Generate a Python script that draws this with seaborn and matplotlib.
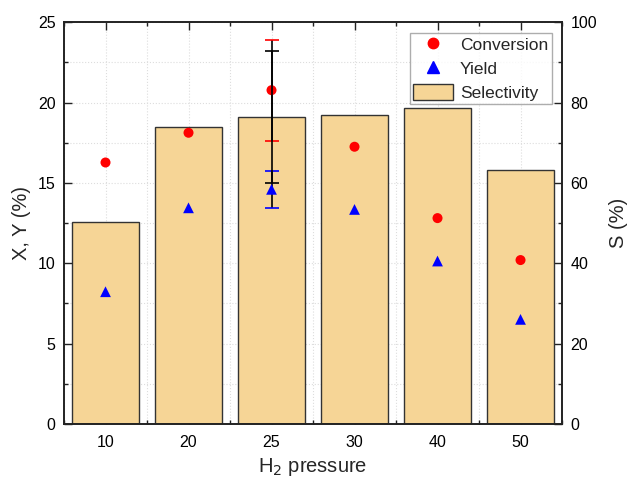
import pandas as pd
import matplotlib.pyplot as plt
import seaborn as sns
from matplotlib.ticker import MultipleLocator, AutoMinorLocator
from matplotlib.lines import Line2D
from matplotlib.patches import Patch

pressure = ['10', '20', '25', '30', '40', '50']
selectivity = [50.2, 73.8, 76.4, 76.9, 78.6, 63.1]
conversion = [16.27, 18.12, 20.77, 17.25, 12.81, 10.20]
yield_ = [8.23, 13.45, 14.60, 13.35, 10.14, 6.51]

# error bars only reported at 25 bar
err_cat = '25'
conv_err = 3.15
yield_err = 1.14
sel_err = 16.4

df = pd.DataFrame({'pressure': pressure, 'S': selectivity,
                   'X': conversion, 'Y': yield_})

sns.set_style('white')
plt.rcParams['font.family'] = ['Liberation Sans', 'DejaVu Sans']

fig = plt.figure(figsize=(6.3, 4.82), dpi=100)
ax = fig.add_axes([0.1016, 0.1203, 0.7905, 0.8337])

# bars live on the right-hand (S) scale
sns.barplot(data=df, x='pressure', y='S', order=pressure, color='#F6D596',
            saturation=1, width=0.81, edgecolor='#333333', linewidth=1.0, ax=ax)
ax.set_ylim(0, 100)
ax.set_xlim(-0.5, 5.5)
ax.yaxis.tick_right()
ax.yaxis.set_label_position('right')
ax.set_ylabel('S (%)', fontsize=14.5, labelpad=9)
ax.yaxis.set_major_locator(MultipleLocator(20))
ax.yaxis.set_minor_locator(MultipleLocator(10))
ax.xaxis.set_minor_locator(AutoMinorLocator(2))
ax.set_axisbelow(True)
ax.grid(True, which='both', linestyle=':', color='#dddddd', linewidth=0.8)

# points on the left-hand (X, Y) scale
ax2 = ax.twinx()
ax2.set_ylim(0, 25)
ax2.yaxis.set_major_locator(MultipleLocator(5))
ax2.yaxis.set_minor_locator(MultipleLocator(2.5))

i = pressure.index(err_cat)
e1 = ax2.errorbar(err_cat, conversion[i], yerr=conv_err, fmt='none', ecolor='red',
                  elinewidth=1.2, capsize=5, capthick=1.2, zorder=3)
e2 = ax2.errorbar(err_cat, yield_[i], yerr=yield_err, fmt='none', ecolor='blue',
                  elinewidth=1.2, capsize=5, capthick=1.2, zorder=3)
for e in (e1, e2):
    e[2][0].set_color('black')

sns.scatterplot(data=df, x='pressure', y='X', color='red', marker='o', s=52,
                edgecolor='none', ax=ax2, zorder=5)
sns.scatterplot(data=df, x='pressure', y='Y', color='blue', marker='^', s=60,
                edgecolor='none', ax=ax2, zorder=5)

# selectivity error bar (S scale shown as S/4 on the left axis), drawn on top
ax2.errorbar(err_cat, selectivity[i] / 4, yerr=sel_err / 4, fmt='none',
             ecolor='black', elinewidth=1.2, capsize=5, capthick=1.2, zorder=6)

ax2.yaxis.tick_left()
ax2.yaxis.set_label_position('left')
ax2.set_ylabel('X, Y (%)', fontsize=14.5, labelpad=5)
ax.set_xlabel('H$_2$ pressure', fontsize=14.5, labelpad=4)
ax2.set_xlabel('H$_2$ pressure', fontsize=14.5, labelpad=4)

for a in (ax, ax2):
    a.tick_params(axis='both', which='major', direction='in', length=6, width=1.0,
                  labelsize=11.5, color='#222222', labelcolor='black')
    a.tick_params(axis='both', which='minor', direction='in', length=3, width=1.0,
                  color='#222222')
    a.tick_params(axis='x', which='major', pad=8)
    a.tick_params(axis='y', which='major', pad=6)
    for s in a.spines.values():
        s.set_color('#222222')
        s.set_linewidth(1.2)
ax.tick_params(axis='x', which='both', top=True, bottom=True)
ax.tick_params(axis='y', which='both', left=False, right=True,
               labelleft=False, labelright=True)
ax2.tick_params(axis='y', which='both', left=True, right=False,
                labelleft=True, labelright=False)

handles = [Line2D([], [], marker='o', color='red', linestyle='none', markersize=7.5),
           Line2D([], [], marker='^', color='blue', linestyle='none', markersize=8),
           Patch(facecolor='#F6D596', edgecolor='#333333', linewidth=1.0)]
leg = ax2.legend(handles, ['Conversion', 'Yield', 'Selectivity'], loc='upper right',
                 fontsize=12.5, frameon=True, fancybox=False, edgecolor='#999999',
                 borderaxespad=0.6, handlelength=2.3, handletextpad=0.4,
                 borderpad=0.2, labelspacing=0.42, handleheight=1.0)
leg.get_frame().set_linewidth(1.0)

fig.savefig('out.png', dpi=100)
